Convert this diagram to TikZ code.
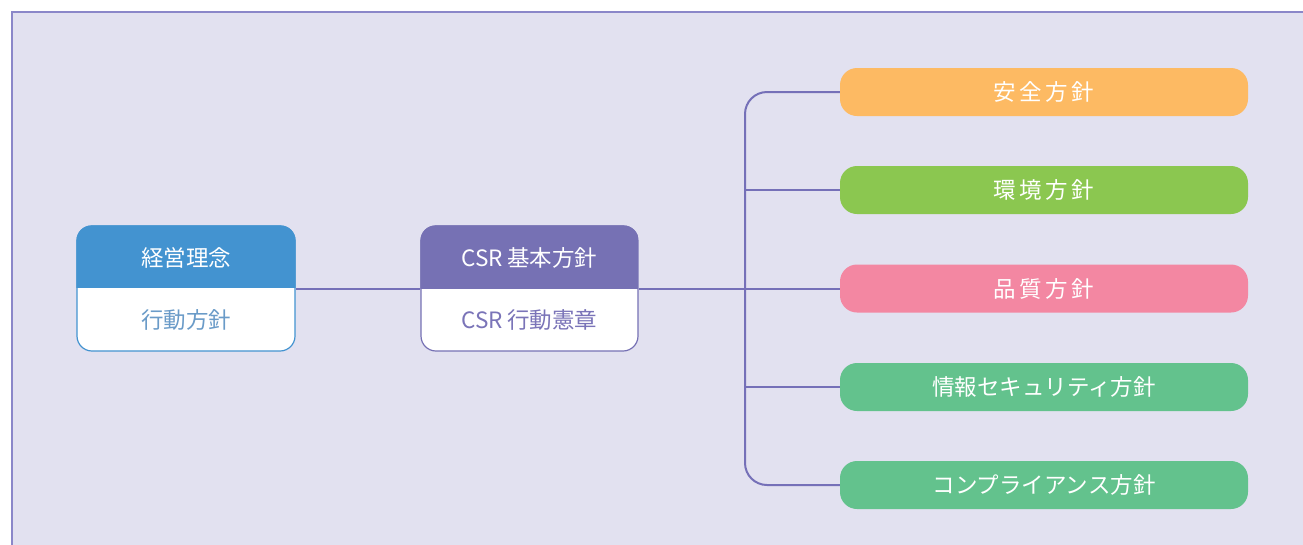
\documentclass[tikz,border=0pt]{standalone}
\usepackage{fontspec}
\setmainfont{Noto Sans CJK JP}
\definecolor{bgc}{HTML}{E2E1F0}
\definecolor{framec}{HTML}{8B87C9}
\definecolor{blueh}{HTML}{4393D0}
\definecolor{bluet}{HTML}{6A9BC8}
\definecolor{purpleh}{HTML}{7671B4}
\definecolor{purplet}{HTML}{7A74B8}
\definecolor{linec}{HTML}{7570B8}
\definecolor{orangec}{HTML}{FDBA63}
\definecolor{greenA}{HTML}{8BC750}
\definecolor{pinkc}{HTML}{F387A2}
\definecolor{greenB}{HTML}{63C28D}
\begin{document}
\begin{tikzpicture}[x=1pt,y=-1pt,
  txt/.style={font=\fontsize{22.5}{26}\selectfont, inner sep=0pt},
  outer/.style={rounded corners=15, minimum width=218, minimum height=125, inner sep=0pt, line width=1.2},
  leaf/.style={rounded corners=17, minimum width=408, minimum height=48, inner sep=0pt, text=white, font=\fontsize{22.5}{26}\selectfont},
  conn/.style={draw=linec, line width=2}]
\useasboundingbox (0,0) rectangle (1303,544);
\draw[fill=bgc, draw=framec, line width=1.2] (12,12) rectangle (1330,570);

% left two-part node
\node[outer, fill=white] (L) at (186,288.5) {};
\begin{scope}
  \clip[rounded corners=15] (L.north west) rectangle (L.south east);
  \fill[blueh] (L.north west) rectangle (L.east |- 0,288);
\end{scope}
\node[outer, draw=blueh] at (L) {};
\node[txt, text=white] (Lt) at (186,258) {経営理念};
\node[txt, text=bluet] (Lb) at (186,320) {行動方針};

% middle two-part node
\node[outer, minimum width=217, fill=white] (M) at (529.5,288.5) {};
\begin{scope}
  \clip[rounded corners=15] (M.north west) rectangle (M.south east);
  \fill[purpleh] (M.north west) rectangle (M.east |- 0,289);
\end{scope}
\node[outer, minimum width=217, draw=purpleh] at (M) {};
\node[txt, text=white] (Mt) at (529.5,258) {CSR\kern4pt 基本方針};
\node[txt, text=purplet] (Mb) at (529.5,320) {CSR\kern4pt 行動憲章};

% right leaves
\node[leaf, fill=orangec] (R1) at (1044,92) {安\kern3.5pt 全\kern3.5pt 方\kern3.5pt 針};
\node[leaf, fill=greenA] (R2) at (1044,190) {環\kern3.5pt 境\kern3.5pt 方\kern3.5pt 針};
\node[leaf, fill=pinkc] (R3) at (1044,288.5) {品\kern3.5pt 質\kern3.5pt 方\kern3.5pt 針};
\node[leaf, fill=greenB] (R4) at (1044,387) {情報セキュリティ方針};
\node[leaf, fill=greenB] (R5) at (1044,485) {コンプライアンス方針};

% connectors
\coordinate (trunk) at (745,288.5);
\draw[conn] (L.east) -- (M.west);
\draw[conn] (M.east) -- (R3.west);
\draw[conn, rounded corners=22] (R1.west) -- (R1.west -| trunk) -- (R5.west -| trunk) -- (R5.west);
\draw[conn] (R2.west -| trunk) -- (R2.west);
\draw[conn] (R4.west -| trunk) -- (R4.west);
\end{tikzpicture}
\end{document}
